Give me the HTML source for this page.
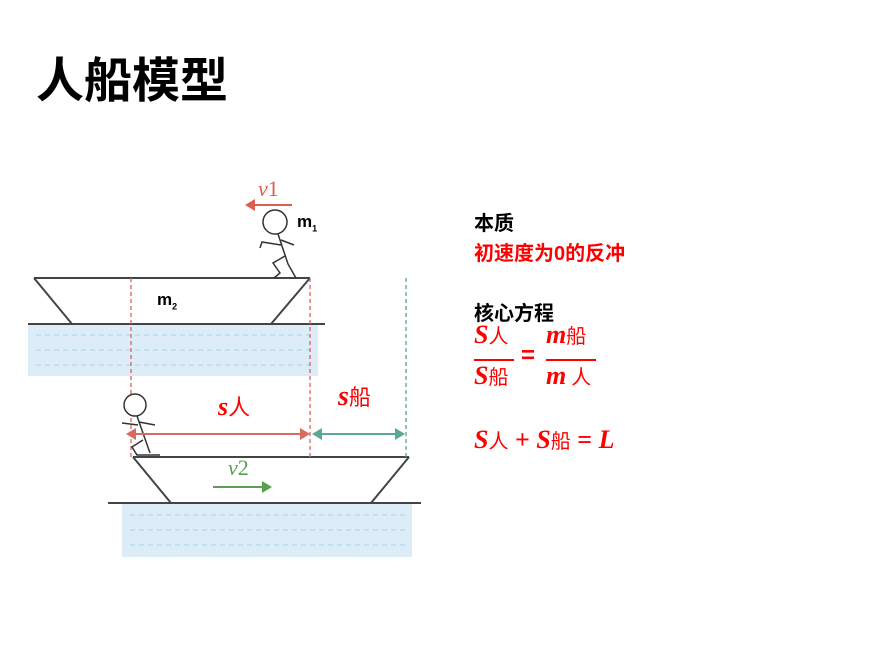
<!DOCTYPE html>
<html><head><meta charset="utf-8"><style>
body{margin:0;width:891px;height:665px;background:#fff;position:relative;overflow:hidden;font-family:"Liberation Sans","Noto Sans CJK SC",sans-serif}
.t{position:absolute;white-space:nowrap}
.r{color:#f00;font-weight:bold}
.b{font-weight:bold}
</style></head><body>
<div class="t b" style="left:36px;top:52px;font-size:48px;line-height:60px">人船模型</div>
<svg width="891" height="665" style="position:absolute;left:0;top:0">
<rect x="28" y="325" width="290" height="51" fill="#dcedf8"/>
<rect x="122" y="504" width="290" height="53" fill="#dcedf8"/>
<g stroke="#a9d3ea" stroke-width="1" stroke-dasharray="5,4">
<line x1="36" y1="335" x2="310" y2="335"/><line x1="36" y1="350" x2="310" y2="350"/><line x1="36" y1="365" x2="310" y2="365"/>
<line x1="130" y1="515" x2="405" y2="515"/><line x1="130" y1="530" x2="405" y2="530"/><line x1="130" y1="545" x2="405" y2="545"/>
</g>
<g stroke="#444" stroke-width="2" fill="none">
<line x1="34" y1="278" x2="310" y2="278"/><line x1="34" y1="278" x2="72" y2="324"/><line x1="310" y1="278" x2="271" y2="324"/>
<line x1="28" y1="324" x2="325" y2="324"/>
<line x1="133" y1="457" x2="409" y2="457"/><line x1="133" y1="457" x2="171" y2="503"/><line x1="409" y1="457" x2="371" y2="503"/>
<line x1="108" y1="503" x2="421" y2="503"/>
</g>
<g stroke="#e06060" stroke-width="1.3" stroke-dasharray="4,3"><line x1="131" y1="278" x2="131" y2="460"/><line x1="310" y1="278" x2="310" y2="460"/></g>
<line x1="406" y1="278" x2="406" y2="460" stroke="#4aa890" stroke-width="1.3" stroke-dasharray="4,3"/>
<g stroke="#333" stroke-width="1.5" fill="none">
<circle cx="275" cy="222" r="12" fill="#fff"/>
<path d="M278 234 L288 264 L296 278 M281 245 L262 242 L260 248 M281 240 L294 245 M285 256 L273 263 L280 273 L274 278"/>
<circle cx="135" cy="405" r="11" fill="#fff"/>
<path d="M137 416 L150 453 M138 425 L122 423 M139 422 L155 425 M143 440 L132 447 L137 455 L160 455"/>
</g>
<g stroke="#d96050" stroke-width="2" fill="#d96050"><line x1="292" y1="205" x2="252" y2="205"/><polygon points="245,205 255,199 255,211" stroke="none"/></g>
<g stroke="#d96a60" stroke-width="2" fill="#d96a60"><line x1="132" y1="434" x2="304" y2="434"/><polygon points="126,434 136,428 136,440" stroke="none"/><polygon points="310,434 300,428 300,440" stroke="none"/></g>
<g stroke="#5aa898" stroke-width="2" fill="#5aa898"><line x1="318" y1="434" x2="400" y2="434"/><polygon points="312,434 322,428 322,440" stroke="none"/><polygon points="405,434 395,428 395,440" stroke="none"/></g>
<g stroke="#5a9e50" stroke-width="2" fill="#5a9e50"><line x1="213" y1="487" x2="264" y2="487"/><polygon points="272,487 262,481 262,493" stroke="none"/></g>
</svg>
<div class="t" style="left:258px;top:176px;font-size:22px;color:#d96050;font-family:'Liberation Serif',serif;font-style:italic">v<span style="font-style:normal">1</span></div>
<div class="t" style="left:228px;top:455px;font-size:22px;color:#5a9e50;font-family:'Liberation Serif',serif;font-style:italic">v<span style="font-style:normal">2</span></div>
<div class="t b" style="left:297px;top:212px;font-size:17px">m<sub style="font-size:9px">1</sub></div>
<div class="t b" style="left:157px;top:290px;font-size:17px">m<sub style="font-size:9px">2</sub></div>
<div class="t r" style="left:218px;top:390px;font-size:26px"><i style="font-family:'Liberation Serif',serif">s</i><span style="font-weight:normal;font-size:22px">人</span></div>
<div class="t r" style="left:338px;top:380px;font-size:28px"><i style="font-family:'Liberation Serif',serif">s</i><span style="font-weight:normal;font-size:22px">船</span></div>
<div class="t b" style="left:474px;top:207px;font-size:20px">本质</div>
<div class="t r" style="left:474px;top:237px;font-size:20px">初速度为0的反冲</div>
<div class="t b" style="left:474px;top:297px;font-size:20px">核心方程</div>
<div class="t r" style="left:474px;top:320px;font-size:26px;font-family:'Liberation Serif','Noto Sans CJK SC',serif"><i>S</i><span style="font-weight:normal;font-size:20px">人</span></div>
<div style="position:absolute;left:474px;top:359px;width:40px;height:2px;background:#f00"></div>
<div class="t r" style="left:474px;top:361px;font-size:26px;font-family:'Liberation Serif','Noto Sans CJK SC',serif"><i>S</i><span style="font-weight:normal;font-size:20px">船</span></div>
<div class="t r" style="left:521px;top:342px;font-size:24px">=</div>
<div class="t r" style="left:546px;top:320px;font-size:26px;font-family:'Liberation Serif','Noto Sans CJK SC',serif"><i>m</i><span style="font-weight:normal;font-size:20px">船</span></div>
<div style="position:absolute;left:546px;top:359px;width:50px;height:2px;background:#f00"></div>
<div class="t r" style="left:546px;top:361px;font-size:26px;font-family:'Liberation Serif','Noto Sans CJK SC',serif"><i>m</i><span style="font-weight:normal;font-size:20px"> 人</span></div>
<div class="t r" style="left:474px;top:425px;font-size:26px;font-family:'Liberation Serif','Noto Sans CJK SC',serif"><i>S</i><span style="font-weight:normal;font-size:20px">人</span> + <i>S</i><span style="font-weight:normal;font-size:20px">船</span> = <i>L</i></div>
</body></html>
